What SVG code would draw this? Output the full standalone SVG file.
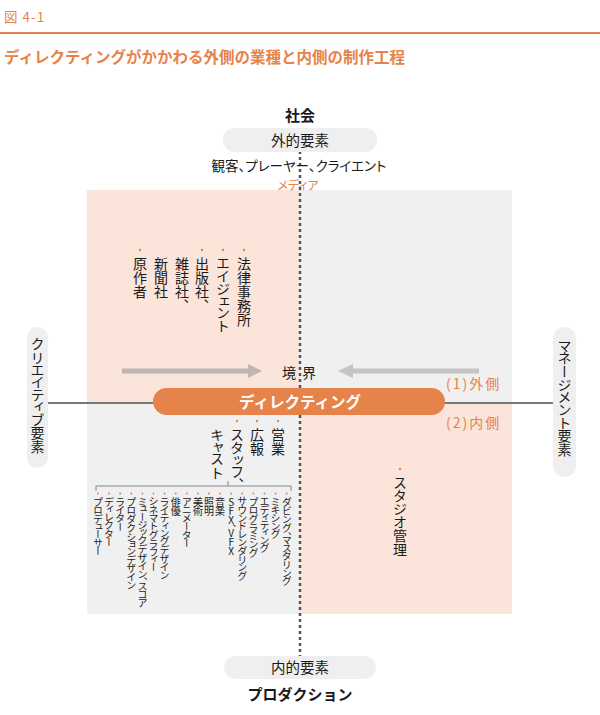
<svg xmlns="http://www.w3.org/2000/svg" width="600" height="715" viewBox="0 0 600 715">
<style>
text{font-family:"Noto Sans CJK JP","Noto Sans",sans-serif;fill:#1a1a1a;}
.h{font-feature-settings:"palt";}
.v{writing-mode:vertical-rl;text-orientation:upright;font-feature-settings:"vpal";dominant-baseline:central;}
.s{font-size:10px;letter-spacing:-1px;}
.or{fill:#E6834B;}
.b{font-weight:bold;}
.dot{fill:#E6834B;}
.pill{fill:#EFEFEF;}
</style>
<rect width="600" height="715" fill="#fff"/>
<g id="header">
<text x="4" y="22" class="or" font-size="13.5" letter-spacing="1">図 4-1</text>
<line x1="0" y1="33" x2="600" y2="33" stroke="#E6834B" stroke-width="2"/>
<text x="4" y="63" class="or b" font-size="15.5">ディレクティングがかかわる外側の業種と内側の制作工程</text>
</g>
<g id="quadrants">
<rect x="87" y="190" width="213" height="213" fill="#FBE4DA"/>
<rect x="300" y="190" width="212" height="213" fill="#F0F0F0"/>
<rect x="87" y="403" width="213" height="211" fill="#F0F0F0"/>
<rect x="300" y="403" width="212" height="211" fill="#FBE4DA"/>
</g>
<g id="connectors">
<line x1="48" y1="403" x2="553" y2="403" stroke="#777" stroke-width="2"/>
<line x1="300" y1="151" x2="300" y2="657" stroke="#555" stroke-width="2.5" stroke-dasharray="3 3"/>
<polygon points="122,368.5 248,368.5 248,364 262,371 248,378 248,373.5 122,373.5" fill="#BDB6B1"/>
<polygon points="479,368.5 353,368.5 353,364 338,371 353,378 353,373.5 479,373.5" fill="#C4C4C4"/>
<path d="M96,491 V486 H291 V491 M228,481 V486" fill="none" stroke="#888" stroke-width="1"/>
</g>
<g id="society">
<text x="300" y="121" text-anchor="middle" class="b" font-size="15">社会</text>
<rect x="223" y="128" width="154" height="24" rx="12" class="pill"/>
<text x="300" y="146" text-anchor="middle" font-size="14.5">外的要素</text>
<text x="299" y="171" text-anchor="middle" class="h" font-size="13.5">観客、プレーヤー、クライエント</text>
<text x="298" y="190" text-anchor="middle" class="or h" font-size="12">メディア</text>
</g>
<g id="outer-industries">
<circle cx="244" cy="250" r="1.2" class="dot"/>
<text x="244" y="257" class="v" font-size="14">法律事務所</text>
<circle cx="223" cy="250" r="1.2" class="dot"/>
<text x="223" y="257" class="v" font-size="14">エイジェント</text>
<circle cx="202" cy="250" r="1.2" class="dot"/>
<text x="202" y="257" class="v" font-size="14">出版社、</text>
<text x="182" y="257" class="v" font-size="14">雑誌社、</text>
<text x="161" y="257" class="v" font-size="14">新聞社</text>
<circle cx="140" cy="250" r="1.2" class="dot"/>
<text x="140" y="257" class="v" font-size="14">原作者</text>
</g>
<g id="boundary">
<text x="282" y="378" font-size="14">境<tspan x="302">界</tspan></text>
<text x="446" y="389" class="or" font-size="14" letter-spacing="2">(1)外側</text>
<text x="446" y="428" class="or" font-size="14" letter-spacing="2">(2)内側</text>
</g>
<g id="directing">
<rect x="153" y="388" width="292" height="27" rx="13.5" fill="#E6834B"/>
<text x="300" y="408" text-anchor="middle" class="b" font-size="15.5" style="fill:#fff">ディレクティング</text>
</g>
<g id="creative">
<rect x="27" y="327" width="21" height="141" rx="10.5" class="pill"/>
<text x="37.5" y="337" class="v" font-size="14">クリエイティブ要素</text>
</g>
<g id="management">
<rect x="553" y="327" width="23" height="150" rx="11.5" class="pill"/>
<text x="564.5" y="339" class="v" font-size="14">マネージメント要素</text>
</g>
<g id="inner-staff">
<circle cx="278" cy="421" r="1.2" class="dot"/>
<text x="278" y="428" class="v" font-size="14">営業</text>
<circle cx="257" cy="421" r="1.2" class="dot"/>
<text x="257" y="428" class="v" font-size="14">広報</text>
<circle cx="237" cy="421" r="1.2" class="dot"/>
<text x="237" y="428" class="v" font-size="14">スタッフ、</text>
<text x="217" y="428" class="v" font-size="14">キャスト</text>
</g>
<g id="production-roles">
<g class="dot">
<circle cx="286.7" cy="493.5" r="1"/><circle cx="275.6" cy="493.5" r="1"/><circle cx="264.5" cy="493.5" r="1"/><circle cx="253.4" cy="493.5" r="1"/><circle cx="242.3" cy="493.5" r="1"/><circle cx="231.2" cy="493.5" r="1"/><circle cx="220.1" cy="493.5" r="1"/><circle cx="209" cy="493.5" r="1"/><circle cx="197.9" cy="493.5" r="1"/><circle cx="186.8" cy="493.5" r="1"/><circle cx="175.7" cy="493.5" r="1"/><circle cx="164.6" cy="493.5" r="1"/><circle cx="153.5" cy="493.5" r="1"/><circle cx="142.4" cy="493.5" r="1"/><circle cx="131.3" cy="493.5" r="1"/><circle cx="120.2" cy="493.5" r="1"/><circle cx="109.1" cy="493.5" r="1"/><circle cx="98" cy="493.5" r="1"/>
</g>
<text x="286.7" y="497" class="v s">ダビング、マスタリング</text>
<text x="275.6" y="497" class="v s">ミキシング</text>
<text x="264.5" y="497" class="v s">エディティング</text>
<text x="253.4" y="497" class="v s">プログラミング</text>
<text x="242.3" y="497" class="v s">サウンドレンダリング</text>
<text x="231.2" y="497" class="v s">SFX、VFX</text>
<text x="220.1" y="497" class="v s">音楽</text>
<text x="209" y="497" class="v s">照明</text>
<text x="197.9" y="497" class="v s">美術</text>
<text x="186.8" y="497" class="v s">アニメーター</text>
<text x="175.7" y="497" class="v s">俳優</text>
<text x="164.6" y="497" class="v s">ライティングデザイン</text>
<text x="153.5" y="497" class="v s">シネマトグラフィー</text>
<text x="142.4" y="497" class="v s">ミュージックデザイン、スコア</text>
<text x="131.3" y="497" class="v s">プロダクションデザイン</text>
<text x="120.2" y="497" class="v s">ライター</text>
<text x="109.1" y="497" class="v s">ディレクター</text>
<text x="98" y="497" class="v s">プロデューサー</text>
</g>
<g id="studio">
<circle cx="400" cy="469" r="1.2" class="dot"/>
<text x="400" y="476" class="v" font-size="14">スタジオ管理</text>
</g>
<g id="production">
<rect x="224" y="656" width="152" height="23" rx="11.5" class="pill"/>
<text x="300" y="673" text-anchor="middle" font-size="14.5">内的要素</text>
<text x="300" y="700" text-anchor="middle" class="b" font-size="15">プロダクション</text>
</g>
</svg>
